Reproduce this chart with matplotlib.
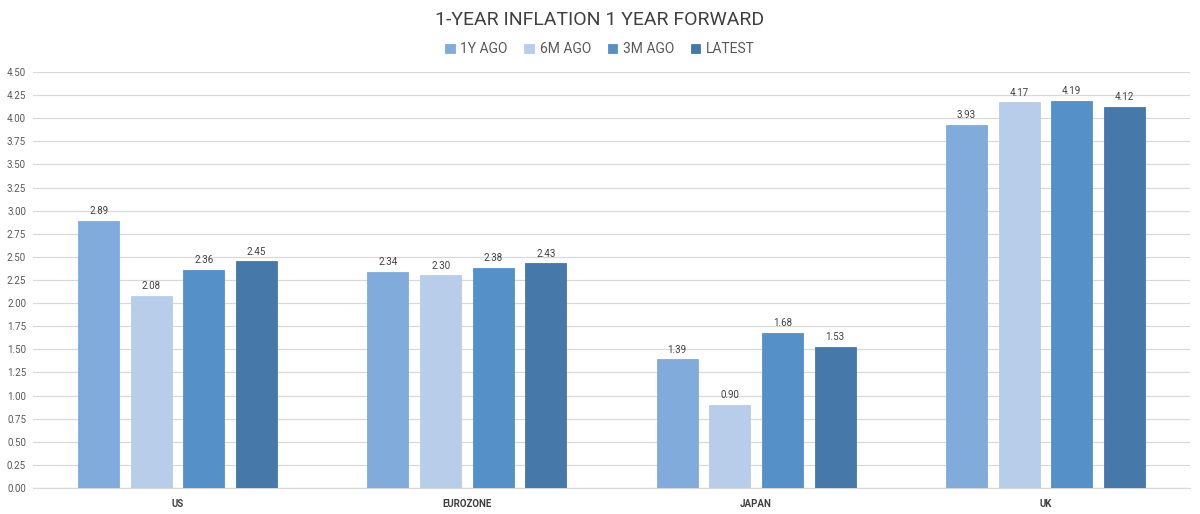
import matplotlib.pyplot as plt
import numpy as np

# chart data
categories = ['US', 'EUROZONE', 'JAPAN', 'UK']
series_names = ['1Y AGO', '6M AGO', '3M AGO', 'LATEST']
year_ago = [2.89, 2.34, 1.39, 3.93]
six_months_ago = [2.08, 2.30, 0.90, 4.17]
three_months_ago = [2.36, 2.38, 1.68, 4.19]
latest = [2.45, 2.43, 1.53, 4.12]
y_ticks = [0.0, 0.25, 0.5, 0.75, 1.0, 1.25, 1.5, 1.75, 2.0, 2.25, 2.5, 2.75, 3.0, 3.25, 3.5, 3.75, 4.0, 4.25, 4.5]

colors = ['#80ABDA', '#B7CDE9', '#5591C8', '#4679A9']
series = [year_ago, six_months_ago, three_months_ago, latest]

plt.rcParams['font.family'] = ['Roboto', 'DejaVu Sans']

fig = plt.figure(figsize=(12, 5.14), dpi=100)
ax = fig.add_axes([0.0275, 0.0506, 0.9642, 0.8094])

x = np.arange(len(categories))
slot = 0.182
width = 0.142
for i, (vals, name, col) in enumerate(zip(series, series_names, colors)):
    pos = x + (i - 1.5) * slot
    ax.bar(pos, vals, width, color=col, label=name, zorder=3,
           edgecolor=col, linewidth=0.6)
    for xp, v in zip(pos, vals):
        ax.text(xp, v + 0.05, f'{v:.2f}', ha='center', va='bottom',
                fontsize=7, color='#404040', zorder=4)

ax.set_xlim(-0.5, 3.5)
ax.set_ylim(0, 4.5)
ax.set_yticks(y_ticks)
ax.set_yticklabels([f'{t:.2f}' for t in y_ticks])
ax.set_xticks(x)
ax.set_xticklabels(categories, fontweight='bold')
ax.tick_params(axis='y', length=0, labelsize=7, labelcolor='#595959', pad=5)
ax.tick_params(axis='x', length=0, labelsize=7, labelcolor='#404040', pad=8)
ax.grid(axis='y', color='#D9D9D9', linewidth=0.9, zorder=0)
for s in ['top', 'right', 'left']:
    ax.spines[s].set_visible(False)
ax.spines['bottom'].set_color('#D9D9D9')
ax.spines['bottom'].set_linewidth(0.9)

fig.text(0.5, 0.962, '1-YEAR INFLATION 1 YEAR FORWARD', ha='center', va='center',
         fontsize=14, color='#404040')
fig.legend(loc='center', bbox_to_anchor=(0.5, 0.904), ncol=4, frameon=False,
           fontsize=10, handlelength=0.7, handleheight=0.7, handletextpad=0.4,
           columnspacing=1.2, labelcolor='#595959')

plt.savefig('out.png', dpi=100)
